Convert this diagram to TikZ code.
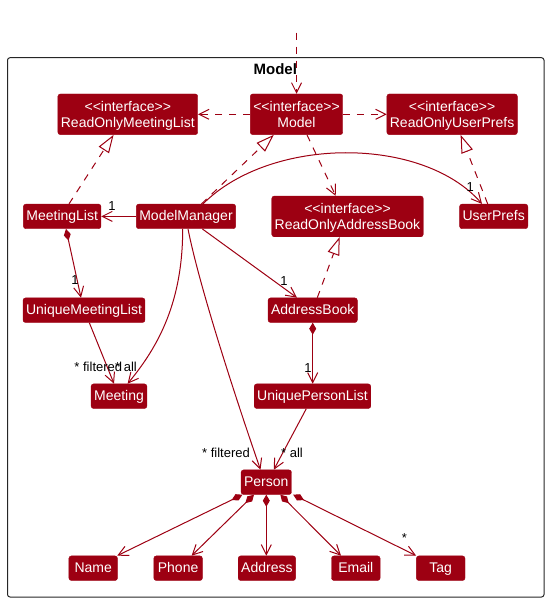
\documentclass[tikz,border=0pt]{standalone}
\usepackage{fontspec}
\setmainfont{Liberation Sans}
\usetikzlibrary{arrows.meta}
\definecolor{modelred}{HTML}{9D0012}

\begin{document}
\begin{tikzpicture}[x=1pt,y=-1pt]
\tikzstyle{cls} = [fill=modelred, draw=modelred, rounded corners=2.5pt, text=white,
  inner xsep=3pt, inner ysep=0pt, minimum height=24.6pt, text height=10.5pt,
  text depth=2pt, font=\fontsize{14}{16}\selectfont]
\tikzstyle{iface} = [cls, align=center, minimum height=40.7pt, text height=26.5pt, text depth=0pt]
\tikzstyle{leaf} = [cls, minimum width=48.6pt]
\tikzstyle{line} = [draw=modelred, line width=1pt]
\tikzstyle{assoc} = [line, -{Straight Barb[length=10pt,width=10pt]}]
\tikzstyle{dep} = [assoc, dash pattern=on 7pt off 7pt]
\tikzstyle{impl} = [line, dash pattern=on 7pt off 7pt,
  -{Triangle[open,fill=white,length=18pt,width=12pt]}]
\tikzstyle{comp} = [line, {Diamond[length=12pt,width=7pt]}-{Straight Barb[length=10pt,width=10pt]}]
\tikzstyle{mult} = [font=\fontsize{13}{13}\selectfont, inner sep=0pt]

\useasboundingbox (0,0) rectangle (549,602);

% package frame
\draw[black!85, line width=1pt, rounded corners=2.5pt] (7.5,57.7) rectangle (544,597);
\node[font=\bfseries\fontsize{15}{15}\selectfont, inner sep=0pt] (title) at (275.3,69.3) {Model};

% interfaces
\node[iface] (Model) at (296.5,114.3) {<{}<interface>{}>\\Model};
\node[iface] (ROML) at (127.8,114.3) {<{}<interface>{}>\\ReadOnlyMeetingList};
\node[iface] (ROUP) at (452.1,114.3) {<{}<interface>{}>\\ReadOnlyUserPrefs};
\node[iface] (ROAB) at (347.5,216.4) {<{}<interface>{}>\\ReadOnlyAddressBook};

% classes
\node[cls] (ML) at (62.2,216.4) {MeetingList};
\node[cls] (MM) at (186,216.4) {ModelManager};
\node[cls] (UP) at (493.7,216.4) {UserPrefs};
\node[cls] (UML) at (84,310.2) {UniqueMeetingList};
\node[cls] (AB) at (312.7,310.2) {AddressBook};
\node[cls] (Meeting) at (119,396.2) {Meeting};
\node[cls] (UPL) at (312.5,396.2) {UniquePersonList};
\node[cls] (Person) at (266.3,482.2) {Person};
\node[leaf] (Name) at (93.2,568.2) {Name};
\node[leaf] (Phone) at (178.1,568.2) {Phone};
\node[leaf] (Address) at (266.9,568.2) {Address};
\node[leaf] (Email) at (355.8,568.2) {Email};
\node[leaf] (Tag) at (440.7,568.2) {Tag};

% dependencies
\coordinate (entry) at ([yshift=61pt]Model.north);
\draw[dep] (entry) -- (Model.north);
\draw[dep] (Model.west) -- (ROML.east);
\draw[dep] (Model.east) -- (ROUP.west);
\draw[dep] ([xshift=10.5pt]Model.south) -- ([xshift=-11.8pt]ROAB.north);

% realizations
\draw[impl] ([xshift=15.5pt]MM.north) -- ([xshift=-22.7pt]Model.south);
\draw[impl] ([xshift=6.8pt]ML.north) -- ([xshift=-14.2pt]ROML.south);
\draw[impl] ([xshift=-6pt]UP.north) -- ([xshift=8.5pt]ROUP.south);
\draw[impl] ([xshift=4.6pt]AB.north) -- ([xshift=-7.8pt]ROAB.south);

% associations
\draw[assoc] ([xshift=17pt]MM.north) .. controls +(68,-68) and +(-59,-68) .. ([xshift=-11.7pt]UP.north);
\draw[assoc] (MM.west) -- (ML.east);
\draw[assoc] ([xshift=16.3pt]MM.south) -- ([xshift=-15.7pt]AB.north);
\draw[assoc] ([xshift=5.3pt]UML.south) -- ([xshift=-5pt]Meeting.north);
\draw[assoc] ([xshift=-3.3pt]MM.south) .. controls +(0,71) and +(32.4,-39) .. ([xshift=8.6pt]Meeting.north);
\draw[assoc] ([xshift=2pt]MM.south) .. controls +(12,61) and +(-20.5,-59) .. ([xshift=-5.8pt]Person.north);
\draw[assoc] ([xshift=-6.2pt]UPL.south) -- ([xshift=7.5pt]Person.north);

% compositions
\draw[comp] ([xshift=3.8pt]ML.south) -- ([xshift=-3pt]UML.north);
\draw[comp] (AB.south) -- (AB.south |- UPL.north);
\draw[comp] ([xshift=1.5pt]Person.south west) -- ([xshift=-0.5pt]Name.north east);
\draw[comp] ([xshift=-12.3pt]Person.south) -- ([xshift=13.5pt]Phone.north);
\draw[comp] (Person.south) -- (Person.south |- Address.north);
\draw[comp] ([xshift=14pt]Person.south) -- ([xshift=-14.8pt]Email.north);
\draw[comp] ([xshift=1.5pt]Person.south east) -- (Tag.north west);

% multiplicities
\node[mult] (mUP) at (470.3,187.3) {1};
\node[mult] (mML) at (112,206) {1};
\node[mult] (mUML) at (75,280) {1};
\node[mult] (mAB) at (284,280.7) {1};
\node[mult] (mUPL) at (308,368) {1};
\node[mult] (mMeetF) at (98.3,367.3) {* filtered};
\node[mult] (mMeetA) at (126,367.3) {* all};
\node[mult] (mPersF) at (226,453.3) {* filtered};
\node[mult] (mPersA) at (292,453.3) {* all};
\node[mult] (mTag) at (404.5,538.3) {*};

\end{tikzpicture}
\end{document}
